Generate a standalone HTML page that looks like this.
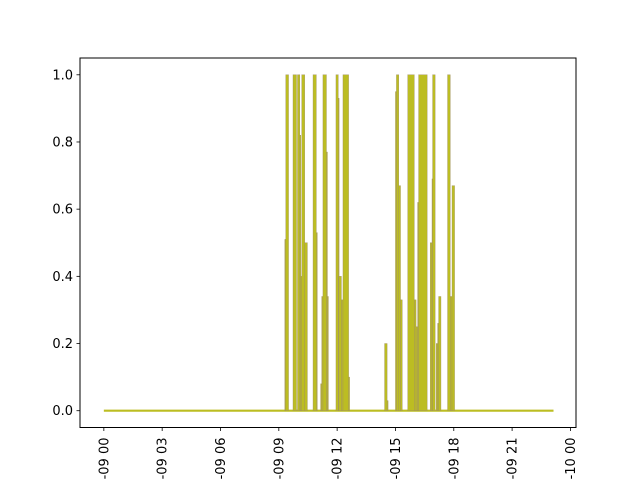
<!DOCTYPE html>
<html><head><meta charset="utf-8"><style>
html,body{margin:0;background:#fff;width:640px;height:480px;overflow:hidden}
svg{display:block;overflow:hidden;font-family:"DejaVu Sans","Liberation Sans",sans-serif}
</style></head><body>
<svg id="chart" width="640" height="480" viewBox="0 0 640 480">
<rect width="640" height="480" fill="#fff"/>
<g id="plot"></g>
<g id="axes"></g>
</svg>
<script>
const segStart=[9.31,9.36,9.73,9.96,10.08,10.13,10.18,10.33,10.76,10.93,11.15,11.21,11.27,11.45,11.50,11.94,12.06,12.09,12.22,12.30,12.59,14.44,14.57,15.00,15.05,15.17,15.26,15.63,15.97,16.06,16.14,16.19,16.79,16.88,16.91,17.10,17.17,17.22,17.68,17.82,17.91];
const segEnd=[9.36,9.50,9.91,10.08,10.13,10.18,10.33,10.47,10.93,10.98,11.21,11.27,11.45,11.50,11.55,12.06,12.09,12.22,12.30,12.59,12.64,14.57,14.62,15.05,15.17,15.26,15.35,15.97,16.06,16.14,16.19,16.63,16.88,16.91,17.04,17.17,17.22,17.34,17.82,17.91,18.04];
const segValue=[0.51,1.0,1.0,1.0,0.82,0.40,1.0,0.50,1.0,0.53,0.08,0.34,1.0,0.77,0.34,1.0,0.93,0.40,0.33,1.0,0.10,0.20,0.03,0.95,1.0,0.67,0.33,1.0,0.33,0.25,0.62,1.0,0.50,0.69,1.0,0.20,0.26,0.34,1.0,0.34,0.67];
const dataStartHour=0, dataEndHour=23.13;
const xTickHours=[0,3,6,9,12,15,18,21,24];
const xTickLabels=["-09 00","-09 03","-09 06","-09 09","-09 12","-09 15","-09 18","-09 21","-10 00"];
const yTicks=[0,0.2,0.4,0.6,0.8,1.0];
const yTickLabels=["0.0","0.2","0.4","0.6","0.8","1.0"];

const NS="http://www.w3.org/2000/svg";
const L=80,R=576,T=58,B=427.5;
const xMin=dataStartHour-(dataEndHour-dataStartHour)*0.05-0.07, xMax=dataEndHour+(dataEndHour-dataStartHour)*0.05;
const yMin=-0.05,yMax=1.05;
const X=h=>L+(h-xMin)/(xMax-xMin)*(R-L);
const Y=v=>B-(v-yMin)/(yMax-yMin)*(B-T);
function mk(tag,attrs,parent){const e=document.createElementNS(NS,tag);for(const k in attrs)e.setAttribute(k,attrs[k]);parent.appendChild(e);return e;}
const plot=document.getElementById('plot'), axes=document.getElementById('axes');

const base=mk('line',{x1:X(dataStartHour),x2:X(dataEndHour),y1:Y(0),y2:Y(0),stroke:'#bcbd22','stroke-width':2.2},plot);


for(let i=0;i<segStart.length;i++){
  const x1=X(segStart[i]),x2=X(segEnd[i]),y=Y(segValue[i]);
  const r=mk('rect',{x:x1,y:y,width:Math.max(x2-x1,0.8),height:Y(0)-y,fill:'#bcbd22',stroke:'#a09060','stroke-width':0.4},plot);
  
  
}
const fr=mk('rect',{x:L,y:T,width:R-L,height:B-T,fill:'none',stroke:'#000','stroke-width':1},axes);


yTicks.forEach((v,i)=>{
  const y=Y(v);
  const t=mk('line',{x1:L-3.5,x2:L,y1:y,y2:y,stroke:'#000','stroke-width':0.8},axes);
  
  
  const tx=mk('text',{x:L-7,y:y+4.5,'text-anchor':'end','font-size':13,fill:'#000'},axes);
  tx.textContent=yTickLabels[i];
  
  
});
xTickHours.forEach((h,i)=>{
  const x=X(h);
  const t=mk('line',{x1:x,x2:x,y1:B,y2:B+3.5,stroke:'#000','stroke-width':0.8},axes);
  
  
  const tx=mk('text',{x:0,y:0,'text-anchor':'end','font-size':13,fill:'#000',transform:`translate(${x+4.5},${B+10}) rotate(-90)`},axes);
  tx.textContent=xTickLabels[i];
  
  
});
</script>
</body></html>
